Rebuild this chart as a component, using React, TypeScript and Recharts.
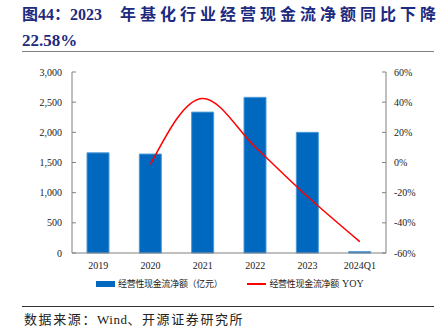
import React from 'react';
import { ComposedChart, Bar, Line, XAxis, YAxis } from 'recharts';

const years = ['2019', '2020', '2021', '2022', '2023', '2024Q1'];
const cashFlow = [1660, 1640, 2335, 2580, 2000, 22];
const yoy: (number | null)[] = [null, -1.2, 42.5, 10.3, -22.58, -52.5];
const leftTicks = [0, 500, 1000, 1500, 2000, 2500, 3000];
const rightTicks = [-60, -40, -20, 0, 20, 40, 60];

const data = years.map((y, i) => ({ year: y, flow: cashFlow[i], yoy: yoy[i] }));

const serif = '"Liberation Serif", "Times New Roman", serif';
const cjk = '"Liberation Serif", "Noto Sans CJK SC", serif';
const navy = '#1C2A80';

const tickStyle = { fill: '#222', fontSize: 10, fontFamily: serif };

export default function App() {
  return (
    <div style={{ position: 'absolute', left: 0, top: 0, width: 442, height: 334, background: '#fff', fontFamily: cjk, overflow: 'hidden' }}>
      <div style={{ position: 'absolute', left: 22, top: 5, color: navy, fontWeight: 'bold', fontSize: 16, whiteSpace: 'nowrap', lineHeight: '20px' }}>
        <span>图44：2023 </span>
        <span style={{ position: 'absolute', left: 98, letterSpacing: 4 }}>年基化行业经营现金流净额同比下降</span>
      </div>
      <div style={{ position: 'absolute', left: 22, top: 31, color: navy, fontWeight: 'bold', fontSize: 17, fontFamily: serif, lineHeight: '20px' }}>
        22.58%
      </div>
      <div style={{ position: 'absolute', left: 22, top: 51, width: 412, height: 0, borderTop: '1.5px solid #7f7f7f' }} />

      <div style={{ position: 'absolute', left: 0, top: 60 }}>
        <ComposedChart width={442} height={220} data={data} margin={{ top: 12, right: 0, bottom: 7, left: 0 }}>
          <XAxis
            dataKey="year"
            tickLine={false}
            axisLine={{ stroke: '#808080' }}
            tick={tickStyle}
            tickMargin={3}
            interval={0}
            height={20}
          />
          <YAxis
            yAxisId="left"
            domain={[0, 3000]}
            ticks={leftTicks}
            width={72}
            interval={0}
            tickFormatter={(v: number) => v.toLocaleString('en-US')}
            tick={tickStyle}
            tickSize={-4}
            tickMargin={14}
            axisLine={{ stroke: '#808080' }}
            tickLine={{ stroke: '#808080' }}
          />
          <YAxis
            yAxisId="right"
            orientation="right"
            domain={[-60, 60]}
            ticks={rightTicks}
            width={56}
            interval={0}
            tickFormatter={(v: number) => `${v}%`}
            tick={tickStyle}
            tickSize={-4}
            tickMargin={12}
            axisLine={{ stroke: '#808080' }}
            tickLine={{ stroke: '#808080' }}
          />
          <Bar yAxisId="left" dataKey="flow" barSize={22} fill="#0068BE" stroke="#4E9BD8" strokeWidth={1} isAnimationActive={false} />
          <Line
            yAxisId="right"
            dataKey="yoy"
            type="monotone"
            stroke="#FF0000"
            strokeWidth={1.5}
            dot={false}
            connectNulls
            isAnimationActive={false}
          />
        </ComposedChart>
      </div>

      <div style={{ position: 'absolute', left: 96, top: 277, fontSize: 9, color: '#222', whiteSpace: 'nowrap', lineHeight: '12px', fontFamily: '"Noto Sans CJK SC", sans-serif' }}>
        <span style={{ display: 'inline-block', width: 19, height: 6, background: '#0068BE', verticalAlign: 'middle', marginRight: 3 }} />
        <span style={{ verticalAlign: 'middle', letterSpacing: -0.3 }}>经营性现金流净额（亿元）</span>
        <span style={{ display: 'inline-block', width: 19, height: 2, background: '#FF0000', verticalAlign: 'middle', marginLeft: 25, marginRight: 3 }} />
        <span style={{ verticalAlign: 'middle', letterSpacing: -0.3 }}>经营性现金流净额</span>
        <span style={{ verticalAlign: 'middle', fontFamily: serif, fontSize: 10, marginLeft: 3 }}>YOY</span>
      </div>

      <div style={{ position: 'absolute', left: 22, top: 306, width: 412, height: 0, borderTop: '1px solid #333' }} />
      <div style={{ position: 'absolute', left: 24, top: 312, fontSize: 13, letterSpacing: 1.6, color: '#222', whiteSpace: 'nowrap', lineHeight: '16px' }}>
        数据来源：<span style={{ fontFamily: serif, letterSpacing: 0.5 }}>Wind</span>、开源证券研究所
      </div>
    </div>
  );
}
